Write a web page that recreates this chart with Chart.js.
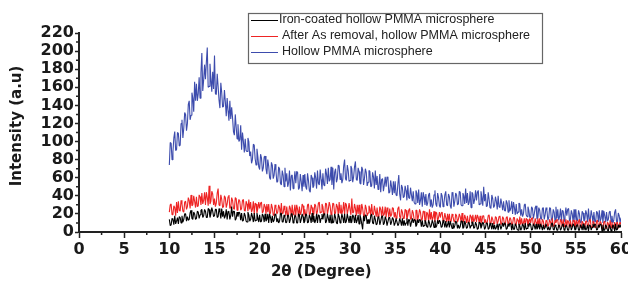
<!DOCTYPE html>
<html>
<head>
<meta charset="utf-8">
<script src="https://cdn.jsdelivr.net/npm/chart.js@4/dist/chart.umd.min.js"></script>
<style>
  html, body { margin: 0; padding: 0; background: #fff; }
  #wrap { width: 628px; height: 282px; }
</style>
</head>
<body>
<div id="wrap"><canvas id="xrdChart" width="628" height="282"></canvas></div>
<script>
// 2θ scan: 10° to 60°, read every 0.1°
const scanStart = 10;
const scanStep = 0.1;

const seriesLabels = [
  'Iron-coated hollow PMMA microsphere',
  'After As removal, hollow PMMA microsphere',
  'Hollow PMMA microsphere'
];

// intensity (a.u), ten readings per degree (one row = one degree)
const ironCoated = [
  14,7,8,15,14,8,18,9,12,16,
  9,17,16,10,18,11,14,20,20,12,
  17,13,14,21,24,15,14,22,20,14,
  15,23,22,15,19,24,25,16,18,25,
  23,16,16,26,25,16,20,27,23,17,
  18,25,25,16,17,26,22,15,26,17,
  23,15,18,25,14,23,22,14,18,28,
  17,23,23,13,15,22,17,22,21,13,
  21,12,13,21,18,12,11,22,19,12,
  14,21,17,11,21,12,13,21,16,11,
  19,11,12,20,18,11,20,12,14,20,
  10,20,16,10,18,11,13,20,19,11,
  15,10,12,20,21,11,11,19,16,10,
  11,19,18,10,14,20,20,10,12,19,
  17,10,10,20,19,10,14,20,17,10,
  12,20,19,10,11,19,16,10,21,11,
  18,10,13,20,10,19,18,10,15,20,
  14,20,20,10,12,20,15,10,19,10,
  19,10,11,20,16,10,9,20,17,10,
  13,20,16,10,20,10,12,20,15,10,
  18,10,11,19,17,10,19,10,13,19,
  9,19,15,9,3,18,12,19,18,9,
  14,9,11,18,20,10,9,18,14,8,
  9,17,16,8,12,17,18,8,10,17,
  14,7,7,16,16,8,11,16,14,7,
  10,15,15,7,9,15,12,7,15,7,
  13,7,10,15,7,14,13,6,11,15,
  10,14,13,6,8,14,10,14,13,6,
  13,6,7,13,11,6,5,13,10,5,
  7,13,10,5,13,5,7,13,9,13,
  11,5,6,13,10,5,12,5,8,12,
  5,12,8,4,10,4,7,12,11,4,
  8,4,6,12,12,4,5,12,9,4,
  5,11,10,4,7,11,11,4,5,11,
  8,3,4,11,10,4,7,11,9,3,
  5,10,10,3,4,10,7,3,10,3,
  8,3,5,9,2,9,8,3,6,10,
  6,10,9,3,4,9,6,10,9,2,
  9,3,3,9,7,3,2,9,7,2,
  4,9,7,2,10,3,4,9,6,10,
  8,2,3,9,7,3,9,3,5,9,
  3,9,6,2,8,3,5,9,9,2,
  6,2,4,9,10,3,2,8,6,2,
  2,8,7,2,4,8,9,2,3,8,
  6,2,2,8,8,2,5,9,7,2,
  3,8,8,2,2,8,6,2,9,2,
  7,2,4,8,1,8,7,2,5,9,
  5,9,8,2,3,8,5,9,8,1,
  8,2,2,8,6,2,1,8,6,1,
  3,8,6,1,9,2,3,8,5,8,
  5
];

const afterRemoval = [
  22,30,31,19,20,29,27,18,33,21,
  34,24,23,35,31,23,22,33,34,25,
  28,38,35,26,41,29,30,40,34,27,
  39,28,29,41,39,30,43,31,35,44,
  30,44,38,29,51,31,34,45,42,30,
  37,28,32,43,48,30,29,41,36,27,
  28,40,38,27,31,39,41,26,27,38,
  35,26,25,38,37,24,30,36,34,24,
  26,35,36,24,23,34,31,23,36,25,
  33,22,25,34,20,32,31,21,26,33,
  26,32,33,21,23,31,28,20,31,22,
  31,20,21,31,27,19,18,30,27,20,
  22,30,27,19,32,20,21,29,24,18,
  28,18,19,29,26,17,30,19,22,30,
  18,30,25,17,28,19,22,31,29,18,
  25,18,20,30,31,19,20,30,27,18,
  20,31,29,19,23,32,33,21,22,31,
  28,19,20,32,31,20,25,33,29,19,
  22,32,31,20,21,31,28,19,33,21,
  30,20,24,33,19,32,30,20,25,32,
  25,19,37,21,22,31,26,18,30,20,
  30,19,20,31,26,18,17,30,26,18,
  21,29,26,18,31,20,19,29,23,17,
  27,17,18,28,25,17,28,18,20,28,
  16,27,23,16,26,17,19,27,26,16,
  22,15,17,26,28,17,15,25,22,15,
  15,25,24,14,18,24,26,14,15,24,
  21,14,13,24,24,13,18,25,22,13,
  14,23,23,12,13,22,20,12,25,14,
  22,13,16,23,11,22,21,12,16,22,
  16,21,22,12,14,21,16,11,20,12,
  20,11,12,20,17,12,11,20,18,11,
  14,20,17,11,21,11,12,19,15,10,
  18,10,11,19,17,10,19,11,14,19,
  11,19,16,10,18,10,12,18,18,10,
  14,9,11,18,19,10,9,17,14,9,
  9,17,16,9,12,17,18,8,10,17,
  15,8,9,16,17,8,11,16,14,8,
  9,16,16,8,8,15,13,8,17,8,
  15,8,10,15,7,15,14,7,11,15,
  10,15,16,7,8,15,11,6,15,7,
  15,6,7,14,12,6,5,13,12,6,
  8,14,11,6,15,6,7,13,10,14,
  13,5,6,14,12,6,14,6,9,14,
  6,13,11,5,13,6,7,13,13,5,
  9,13,6,12,14,5,5,12,10,5,
  5,12,12,5,8,13,14,5,6,12,
  11,5,5,12,13,5,7,12,10,4,
  5,11,12,4,4,11,9,4,13,5,
  11,4,6,11,3,10,11,4,8,11,
  8
];

const hollow = [
  74,99,98,80,89,104,111,90,91,110,
  109,95,96,120,124,104,115,132,130,112,
  120,141,145,124,129,154,148,133,166,145,
  164,145,153,171,148,176,198,156,168,185,
  169,188,204,160,161,186,170,155,177,158,
  195,153,152,175,161,146,137,165,154,138,
  139,157,144,128,148,134,123,145,125,138,
  126,111,107,130,116,103,119,100,102,118,
  91,110,100,88,103,90,89,104,100,84,
  89,76,80,97,96,81,74,92,83,72,
  69,86,82,67,71,83,84,70,64,80,
  73,60,58,77,74,59,63,75,68,55,
  56,72,70,54,52,68,63,50,71,56,
  65,50,54,68,46,62,63,48,55,67,
  54,67,66,47,49,64,56,45,63,50,
  64,50,47,65,57,46,44,63,60,49,
  51,66,60,48,68,54,52,69,58,47,
  65,52,51,70,64,53,71,56,58,72,
  52,71,47,66,70,55,59,74,73,58,
  65,54,58,73,80,59,57,74,68,56,
  57,73,70,55,61,72,78,58,57,71,
  67,54,53,72,69,52,59,70,66,51,
  55,68,67,50,51,66,61,48,68,52,
  62,47,51,64,44,58,59,45,52,61,
  50,61,60,43,44,57,50,41,56,43,
  56,41,40,53,63,42,35,52,49,38,
  39,51,46,35,52,38,37,49,41,34,
  45,33,31,46,43,32,47,30,35,44,
  28,44,39,30,42,29,32,41,43,28,
  36,27,30,41,46,31,28,43,38,29,
  27,43,40,28,32,41,45,30,29,42,
  39,29,26,44,42,28,34,43,41,30,
  31,45,44,30,29,43,40,31,48,32,
  43,30,33,45,27,44,42,31,36,46,
  35,44,46,30,31,45,38,29,50,34,
  42,28,29,44,36,27,26,41,37,27,
  29,39,34,25,40,28,27,37,31,24,
  34,24,23,35,32,22,35,23,26,34,
  20,33,27,19,31,20,22,32,31,18,
  25,17,20,30,31,19,17,28,24,16,
  16,28,26,15,20,27,29,14,16,27,
  24,15,14,26,27,14,19,27,24,13,
  16,27,26,13,14,25,22,12,28,15,
  25,13,17,26,12,24,23,12,18,27,
  18,25,26,12,14,24,20,11,25,13,
  25,12,13,24,20,10,11,23,21,12,
  14,24,20,11,26,13,14,24,18,10,
  22,11,12,23,21,11,24,12,15,24,
  10,23,18,11,22,12,14,22,23,11,
  18,10,13,22,25,12,10,21,18,10,
  16
];

const seriesColors = ['#000000', '#ee2424', '#3d4cad'];

const xTicks = [0, 5, 10, 15, 20, 25, 30, 35, 40, 45, 50, 55, 60];
const yTicks = [0, 20, 40, 60, 80, 100, 120, 140, 160, 180, 200, 220];

function toPoints(values) {
  return values.map((v, i) => ({ x: scanStart + i * scanStep, y: v }));
}

const tickFont = { family: 'DejaVu Sans', size: 16, weight: 'bold' };

// small ticks between the labelled ones, and the axis titles
const axisExtras = {
  id: 'axisExtras',
  afterDraw(chart) {
    const ctx = chart.ctx;
    const xs = chart.scales.x, ys = chart.scales.y;
    const area = chart.chartArea;
    ctx.save();
    ctx.strokeStyle = '#222';
    ctx.lineWidth = 1.5;
    ctx.beginPath();
    for (let i = 0; i < xTicks.length - 1; i++) {
      const px = xs.getPixelForValue((xTicks[i] + xTicks[i + 1]) / 2);
      ctx.moveTo(px, area.bottom);
      ctx.lineTo(px, area.bottom + 3);
    }
    for (let i = 0; i < yTicks.length - 1; i++) {
      const py = ys.getPixelForValue((yTicks[i] + yTicks[i + 1]) / 2);
      ctx.moveTo(area.left, py);
      ctx.lineTo(area.left - 3, py);
    }
    ctx.stroke();

    ctx.fillStyle = '#1a1a1a';
    ctx.font = 'bold 15px "DejaVu Sans"';
    ctx.textAlign = 'center';
    ctx.textBaseline = 'middle';
    ctx.fillText('2θ (Degree)', area.left + (area.right - area.left) * 0.447, 272);
    ctx.translate(17, 126);
    ctx.rotate(-Math.PI / 2);
    ctx.fillText('Intensity (a.u)', 0, 0);
    ctx.restore();
  }
};

// boxed legend inside the plot, top right
const boxLegend = {
  id: 'boxLegend',
  afterDraw(chart) {
    const ctx = chart.ctx;
    ctx.save();
    ctx.fillStyle = '#fff';
    ctx.fillRect(248, 13, 294, 50);
    ctx.strokeStyle = '#666';
    ctx.lineWidth = 1.2;
    ctx.strokeRect(248.5, 13.5, 294, 50);
    ctx.font = '12.5px "Liberation Sans"';
    ctx.textBaseline = 'middle';
    ctx.textAlign = 'left';
    const rows = [20, 36, 52];
    chart.data.datasets.forEach((ds, i) => {
      ctx.strokeStyle = ds.borderColor;
      ctx.lineWidth = 1;
      ctx.beginPath();
      ctx.moveTo(251, rows[i] + 0.5);
      ctx.lineTo(278, rows[i] + 0.5);
      ctx.stroke();
      ctx.fillStyle = '#222';
      ctx.fillText(ds.label, i === 0 ? 279 : 282, rows[i]);
    });
    ctx.restore();
  }
};

new Chart(document.getElementById('xrdChart'), {
  type: 'line',
  data: {
    datasets: [ironCoated, afterRemoval, hollow].map((vals, i) => ({
      label: seriesLabels[i],
      data: toPoints(vals),
      borderColor: seriesColors[i],
      borderWidth: 1.1,
      borderJoinStyle: 'bevel',
      pointRadius: 0,
      tension: 0,
      fill: false
    }))
  },
  options: {
    responsive: false,
    animation: false,
    layout: { padding: { top: 33, right: 7, left: 0, bottom: 0 } },
    plugins: {
      legend: { display: false },
      tooltip: { enabled: false }
    },
    scales: {
      x: {
        type: 'linear',
        min: 0,
        max: 60,
        afterBuildTicks(scale) {
          scale.ticks = xTicks.map(v => ({ value: v }));
        },
        afterFit(scale) {
          scale.height = 50;
          scale.paddingRight = 0;
          scale.paddingLeft = 0;
        },
        grid: { drawOnChartArea: false, tickLength: 6, tickWidth: 1.5, tickColor: '#222' },
        border: { color: '#222', width: 2 },
        ticks: { font: tickFont, color: '#1a1a1a', padding: 2, maxRotation: 0, autoSkip: false }
      },
      y: {
        min: 0,
        max: 220,
        afterBuildTicks(scale) {
          scale.ticks = yTicks.map(v => ({ value: v }));
        },
        afterFit(scale) {
          scale.width = 79;
          scale.paddingTop = 0;
          scale.paddingBottom = 0;
        },
        grid: { drawOnChartArea: false, tickLength: 4, tickWidth: 1.5, tickColor: '#222' },
        border: { color: '#222', width: 2 },
        ticks: { font: tickFont, color: '#1a1a1a', padding: 1, autoSkip: false }
      }
    }
  },
  plugins: [axisExtras, boxLegend]
});
</script>
</body>
</html>
